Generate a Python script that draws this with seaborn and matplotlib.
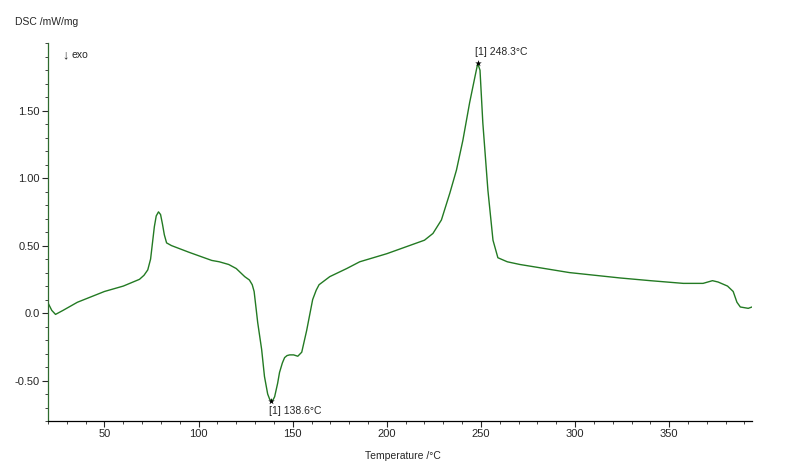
import numpy as np
import pandas as pd
import matplotlib
matplotlib.use("Agg")
import matplotlib.pyplot as plt
from matplotlib.ticker import MultipleLocator
import seaborn as sns

# DSC curve (temperature in degC, DSC in mW/mg)
temperature = [20.2, 22, 24, 28, 35.6, 50, 60, 68.6, 71, 73, 74.5, 75.5, 76.5, 77.5, 78.7,
               79.8, 80.8, 81.8, 83, 85.6,
               95, 107, 111, 116, 120, 124.5, 127, 128.5, 129.5, 130.5, 131.4, 133.5, 135,
               136.7, 137.8, 138.6, 139.5, 140.4, 142, 143, 144.5, 145.7, 147, 148.4, 150.5,
               152.7, 154.8, 157.4, 160.6, 162.5, 164, 169.7, 178.7,
               185.6, 200, 212, 220, 224.5, 229, 233.5, 237, 240.4, 244, 246.8, 248.3,
               249.5, 251, 253.7, 256.4, 259, 264, 270.7, 297, 324, 340, 357.5, 368, 373,
               376, 381, 384, 386, 387.8, 392, 394]
dsc = [0.07, 0.02, -0.01, 0.02, 0.08, 0.16, 0.20, 0.25, 0.28, 0.32, 0.40, 0.52, 0.64, 0.72, 0.75,
       0.73, 0.66, 0.58, 0.52, 0.50,
       0.45, 0.39, 0.38, 0.36, 0.33, 0.27, 0.245, 0.21, 0.16, 0.04, -0.07, -0.27, -0.47,
       -0.60, -0.64, -0.65, -0.645, -0.62, -0.52, -0.44, -0.37, -0.33, -0.315, -0.31, -0.31,
       -0.32, -0.29, -0.13, 0.10, 0.17, 0.21, 0.27, 0.33,
       0.38, 0.44, 0.50, 0.54, 0.59, 0.69, 0.89, 1.06, 1.28, 1.56, 1.75, 1.85,
       1.80, 1.41, 0.91, 0.54, 0.41, 0.38, 0.36, 0.30, 0.26, 0.24, 0.22, 0.22, 0.24,
       0.23, 0.20, 0.16, 0.08, 0.045, 0.035, 0.045]

peaks_t = [248.3, 138.6]
peaks_v = [1.85, -0.65]
peak_labels = ["[1] 248.3°C", "[1] 138.6°C"]

yticks = [-0.5, 0.0, 0.5, 1.0, 1.5]
ytick_labels = ["-0.50", "0.0", "0.50", "1.00", "1.50"]
xticks = [50, 100, 150, 200, 250, 300, 350]

sns.set_theme(style="white")
plt.rcParams['font.family'] = ['Liberation Sans', 'DejaVu Sans']

df = pd.DataFrame({"T": temperature, "DSC": dsc})

fig = plt.figure(figsize=(8, 4.63), dpi=100)
ax = fig.add_axes([0.06, 0.0907, 0.88, 0.816])

sns.lineplot(data=df, x="T", y="DSC", ax=ax, color="#237a23", lw=1.0)
ax.scatter(peaks_t, peaks_v, marker="*", s=24, color="black", zorder=5, linewidths=0)

ax.text(peaks_t[0] - 1.5, peaks_v[0] + 0.05, peak_labels[0], fontsize=7.5, va="bottom", ha="left")
ax.text(peaks_t[1] - 1.0, peaks_v[1] - 0.04, peak_labels[1], fontsize=7.5, va="top", ha="left")

ax.set_xlim(20, 394)
ax.set_ylim(-0.8, 2.0)
ax.set_xticks(xticks)
ax.set_yticks(yticks)
ax.set_yticklabels(ytick_labels)
ax.xaxis.set_minor_locator(MultipleLocator(10))
ax.yaxis.set_minor_locator(MultipleLocator(0.1))
ax.tick_params(axis="both", which="major", direction="out", length=4, width=0.8,
               labelsize=8, pad=2, bottom=True, left=True)
ax.tick_params(axis="both", which="minor", direction="out", length=2, width=0.6,
               bottom=True, left=True)
ax.set_xlabel("")
ax.set_ylabel("")

for s in ["top", "right"]:
    ax.spines[s].set_visible(False)
ax.spines["left"].set_color("#2e6b2e")
ax.spines["bottom"].set_color("black")
ax.spines["left"].set_linewidth(0.9)
ax.spines["bottom"].set_linewidth(0.9)

fig.text(15 / 800, 1 - 22 / 463, "DSC /mW/mg", fontsize=7.5, va="center", ha="left")
fig.text(62 / 800, 1 - 55 / 463, "↓", fontsize=9, va="center", ha="left")
fig.text(72 / 800, 1 - 55 / 463, "exo", fontsize=7.5, va="center", ha="left")
fig.text(441 / 800, 1 - 456 / 463, "Temperature /°C", fontsize=7.5, va="center", ha="right")

fig.savefig("out.png", dpi=100)
